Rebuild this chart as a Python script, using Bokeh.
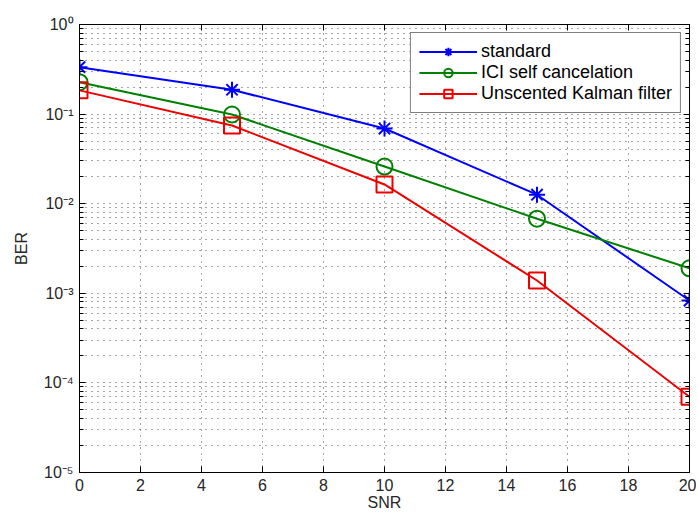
from bokeh.plotting import figure
from bokeh.models import (Range1d, FixedTicker, LinearAxis, LogAxis,
                          CustomJSTickFormatter, Legend, LegendItem)
from bokeh.embed import file_html
from bokeh.resources import INLINE

# ---- data ----
snr = [0, 5, 10, 15, 20]
ber_standard = [0.334, 0.187, 0.069, 0.0126, 0.00083]
ber_ici = [0.227, 0.099, 0.026, 0.0068, 0.0019]
ber_ukf = [0.184, 0.0746, 0.0164, 0.00139, 0.00007]
series_names = ["standard", "ICI self cancelation", "Unscented Kalman filter"]
x_ticks = [0, 2, 4, 6, 8, 10, 12, 14, 16, 18, 20]
y_decades = [1e-5, 1e-4, 1e-3, 1e-2, 1e-1, 1e0]
y_minor = [d * m for d in y_decades[:-1] for m in range(2, 10)]

FONT = "Liberation Sans"
TXT = "#262626"

p = figure(width=696, height=516, x_range=Range1d(0, 20), y_range=Range1d(1e-5, 1),
           y_axis_type="log", output_backend="svg", toolbar_location=None,
           min_border_left=79, min_border_right=7, min_border_top=24,
           min_border_bottom=44, background_fill_color="white",
           border_fill_color="white", outline_line_color="black",
           outline_line_width=1)

sup_code = """
const sup = {'-':'\u207b','0':'\u2070','1':'\u00b9','2':'\u00b2','3':'\u00b3',
             '4':'\u2074','5':'\u2075','6':'\u2076','7':'\u2077','8':'\u2078','9':'\u2079'};
const e = Math.round(Math.log10(tick));
return '10' + String(e).split('').map(c => sup[c]).join('');
"""

xt = FixedTicker(ticks=x_ticks)
yt = FixedTicker(ticks=y_decades, minor_ticks=y_minor)

xa = p.xaxis[0]
xa.ticker = xt
ya = p.yaxis[0]
ya.ticker = yt
ya.formatter = CustomJSTickFormatter(code=sup_code)

for ax in (xa, ya):
    ax.major_tick_in = 6
    ax.major_tick_out = 0
    ax.minor_tick_in = 4
    ax.minor_tick_out = 0
    ax.axis_line_color = "black"
    ax.major_tick_line_color = "black"
    ax.minor_tick_line_color = "black"
    ax.major_label_text_font = FONT
    ax.major_label_text_font_size = "16px"
    ax.major_label_text_color = TXT
    ax.axis_label_text_font = FONT
    ax.axis_label_text_font_size = "16px"
    ax.axis_label_text_font_style = "normal"
    ax.axis_label_text_color = TXT
xa.minor_tick_line_color = None
xa.axis_label = "SNR"
xa.axis_label_standoff = 0
xa.major_label_standoff = 6
ya.axis_label = "BER"
ya.axis_label_standoff = 11
ya.major_label_standoff = 6

# box axes on top and right (ticks only)
empty = CustomJSTickFormatter(code="return '';")
top = LinearAxis(ticker=xt, formatter=empty, major_tick_in=6, major_tick_out=0,
                 minor_tick_line_color=None, major_label_standoff=0)
right = LogAxis(ticker=yt, formatter=empty, major_tick_in=6, major_tick_out=0,
                minor_tick_in=4, minor_tick_out=0, major_label_standoff=0)
p.add_layout(top, "above")
p.add_layout(right, "right")

# grids
p.xgrid.ticker = xt
p.ygrid.ticker = yt
for g in (p.xgrid[0], p.ygrid[0]):
    g.grid_line_color = "#222222"
    g.grid_line_dash = "1 5"
    g.grid_line_alpha = 0.8
p.ygrid.minor_grid_line_color = "#222222"
p.ygrid.minor_grid_line_dash = "1 5"
p.ygrid.minor_grid_line_alpha = 0.8

# series
l1 = p.line(snr, ber_standard, line_color="#0000ff", line_width=2)
m1 = p.scatter(snr, ber_standard, marker="asterisk", size=16, line_color="#0000ff",
               line_width=2)
l2 = p.line(snr, ber_ici, line_color="#008000", line_width=2)
m2 = p.scatter(snr, ber_ici, marker="circle", size=16, line_color="#008000",
               fill_color=None, line_width=2)
l3 = p.line(snr, ber_ukf, line_color="#ee0000", line_width=2)
m3 = p.scatter(snr, ber_ukf, marker="square", size=16, line_color="#ee0000",
               fill_color=None, line_width=2)

legend = Legend(items=[LegendItem(label=series_names[0], renderers=[l1, m1]),
                       LegendItem(label=series_names[1], renderers=[l2, m2]),
                       LegendItem(label=series_names[2], renderers=[l3, m3])],
                location="top_right", margin=8, padding=8, spacing=0,
                glyph_width=58, glyph_height=21, label_standoff=4,
                label_text_font=FONT, label_text_font_size="18px",
                label_text_color="black", border_line_color="black",
                border_line_width=1, background_fill_alpha=1.0)
p.add_layout(legend)

open("out.html", "w").write(file_html(p, INLINE))
